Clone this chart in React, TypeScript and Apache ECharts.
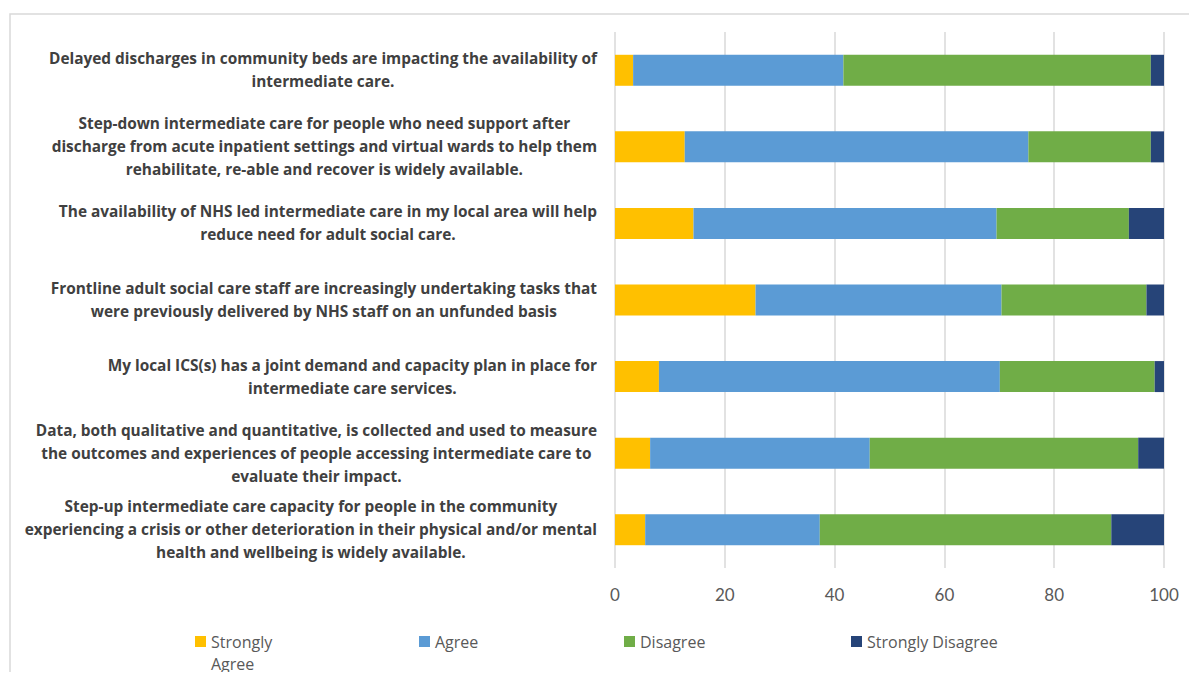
import React, { useEffect, useRef } from "react";
import * as echarts from "echarts";

const categories = [
  "Delayed discharges in community beds are impacting the availability of\nintermediate care.",
  "Step-down intermediate care for people who need support after\ndischarge from acute inpatient settings and virtual wards to help them\nrehabilitate, re-able and recover is widely available.",
  "The availability of NHS led intermediate care in my local area will help\nreduce need for adult social care.",
  "Frontline adult social care staff are increasingly undertaking tasks that\nwere previously delivered by NHS staff on an unfunded basis",
  "My local ICS(s) has a joint demand and capacity plan in place for\nintermediate care services.",
  "Data, both qualitative and quantitative, is collected and used to measure\nthe outcomes and experiences of people accessing intermediate care to\nevaluate their impact.",
  "Step-up intermediate care capacity for people in the community\nexperiencing a crisis or other deterioration in their physical and/or mental\nhealth and wellbeing is widely available.",
];

const stronglyAgree = [3.3, 12.7, 14.3, 25.6, 8.0, 6.4, 5.5];
const agree = [38.3, 62.6, 55.2, 44.8, 62.1, 40.0, 31.8];
const disagree = [56.0, 22.3, 24.1, 26.4, 28.2, 48.9, 53.1];
const stronglyDisagree = [2.4, 2.4, 6.4, 3.2, 1.7, 4.7, 9.6];

const seriesNames = ["Strongly Agree", "Agree", "Disagree", "Strongly Disagree"];
const seriesColors = ["#FFC000", "#5B9BD5", "#70AD47", "#264478"];
const seriesData = [stronglyAgree, agree, disagree, stronglyDisagree];
const legendLefts = [195, 419, 624, 851];

export default function App() {
  const ref = useRef<HTMLDivElement>(null);
  useEffect(() => {
    if (!ref.current) return;
    const chart = echarts.init(ref.current, undefined, { renderer: "svg" });
    const labelFont = "Open Sans";
    const legendText = { color: "#595959", fontSize: 16, fontFamily: labelFont, lineHeight: 22 };
    chart.setOption({
      animation: false,
      backgroundColor: "#ffffff",
      graphic: [
        {
          type: "rect",
          shape: { x: 10, y: 14, width: 1200, height: 700 },
          style: { fill: "none", stroke: "#D9D9D9", lineWidth: 1.5 },
          silent: true,
        },
      ],
      grid: { left: 615, right: 33, top: 32, bottom: 112, containLabel: false },
      xAxis: {
        type: "value",
        min: 0,
        max: 100,
        interval: 20,
        axisLine: { show: false },
        axisTick: { show: false },
        splitLine: { show: true, lineStyle: { color: "#D9D9D9", width: 1.5 } },
        axisLabel: {
          color: "#595959",
          fontSize: 17,
          fontFamily: "Lato",
          margin: 18,
        },
      },
      yAxis: {
        type: "category",
        inverse: true,
        data: categories,
        axisLine: { show: false },
        axisTick: { show: false },
        axisLabel: {
          margin: 18,
          align: "right",
          formatter: (v: string) =>
            v
              .split("\n")
              .map((l) => `{c|${l}}`)
              .join("\n"),
          rich: {
            c: {
              align: "center",
              fontFamily: labelFont,
              fontWeight: "bold",
              fontSize: 15.4,
              lineHeight: 23,
              color: "#404040",
            },
          },
        },
      },
      legend: seriesNames.map((n, i) => ({
        data: [n],
        left: legendLefts[i],
        top: i === 0 ? 608.5 : 630.5,
        itemWidth: 11,
        itemHeight: 11,
        icon: "rect",
        padding: 0,
        selectedMode: false,
        formatter: i === 0 ? "\u00a0\nStrongly\nAgree" : "{name}",
        textStyle: legendText,
      })),
      series: seriesNames.map((n, i) => ({
        name: n,
        type: "bar",
        stack: "total",
        barWidth: 31,
        data: seriesData[i],
        itemStyle: { color: seriesColors[i] },
        emphasis: { disabled: true },
      })),
    });
    return () => chart.dispose();
  }, []);
  return <div ref={ref} style={{ width: 1197, height: 680, margin: -8 }} />;
}
